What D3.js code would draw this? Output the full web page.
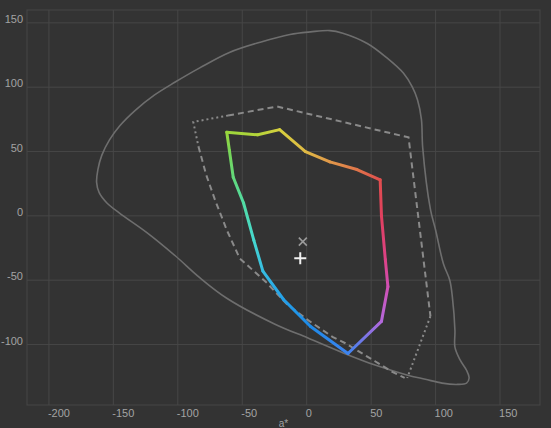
<!DOCTYPE html>
<html>
<head>
<meta charset="utf-8">
<script src="https://cdn.jsdelivr.net/npm/d3@7"></script>
<style>
  html, body { margin: 0; padding: 0; background: #333333; overflow: hidden; }
  svg { display: block; }
</style>
</head>
<body>
<div id="chart"></div>
<script>
// tick values for both axes
var xTicks = [-200, -150, -100, -50, 0, 50, 100, 150];
var yTicks = [-100, -50, 0, 50, 100, 150];

// outer solid boundary (a*, b*), clockwise from the top
var boundaryA = [18, 28, 47, 62, 75, 82, 86, 89, 90, 96, 100, 106, 111, 113, 115, 115, 119, 124, 126, 124, 117, 105, 92, 79, 53, 27, 1, -25, -62, -83, -102, -124, -145, -155, -161, -163, -162, -159, -153, -145, -133, -118, -102, -83, -60, -36, -13, 3];
var boundaryB = [144, 142, 134, 123, 111, 100, 90, 75, 53, 5, -11, -37, -50, -63, -89, -102, -112, -120, -126, -130, -131, -130, -127, -124, -116, -106, -95, -84, -64, -48, -31, -13, 2, 10, 18, 26, 36, 47, 59, 70, 82, 94, 104, 115, 127, 135, 141, 143];

// dashed gamut: top/right part and lower-left part
var dashTopA = [-61, -23, 79, 96];
var dashTopB = [78, 85, 61, -78];
var dashLowA = [-84, -78, -71, -62, -52, -31, -15, 1, 20, 30, 53, 66, 76];
var dashLowB = [54, 32, 12, -11, -33, -52, -69, -81, -94, -99, -113, -121, -126];

// dotted gamut pieces
var dotCornerA = [-61, -88, -84];
var dotCornerB = [78, 73, 54];
var dotRightA = [96, 78];
var dotRightB = [-78, -126];

// coloured hue ring
var ringA = [-62, -38, -21, -1, 18, 39, 57, 58, 61, 63, 58, 32, 3, -18, -34, -41, -49, -57, -60, -62];
var ringB = [65, 63, 67, 50, 42, 36, 28, 0, -34, -55, -82, -107, -86, -65, -43, -19, 10, 30, 51, 65];
var ringColors = ["#9ad63c", "#b4d43a", "#d6d03e", "#dfb944", "#e0984a", "#e0764a", "#e04e4e", "#e0405e",
                  "#dc4286", "#d050b4", "#b468dc", "#3d84f0", "#1e8ae8", "#24a0e8", "#36bce2", "#46d8d0",
                  "#52dca4", "#62d87a", "#7ad656", "#9ad63c"];

// markers
var timesPoint = [-3, -20];
var plusPoint = [-5, -33];

var width = 551, height = 428;
var x, y, svg;

function zip(a, b) {
    return a.map(function(d, i) { return [d, b[i]]; });
}

function drawChart() {
    svg = d3.select("#chart")
        .append("svg")
        .attr("width", width)
        .attr("height", height)
        .style("background", "#333333");

    x = d3.scaleLinear().domain([-217, 181]).range([27, 540]);
    y = d3.scaleLinear().domain([-147, 160]).range([405, 10]);

    // grid
    var grid = svg.append("g");
    grid.selectAll(".vg")
        .data(xTicks)
        .enter().append("line")
        .attr("x1", function(d) { return x(d); })
        .attr("x2", function(d) { return x(d); })
        .attr("y1", y.range()[1])
        .attr("y2", y.range()[0])
        .attr("stroke", "#474747")
        .attr("stroke-width", 1);
    grid.selectAll(".hg")
        .data(yTicks)
        .enter().append("line")
        .attr("x1", x.range()[0])
        .attr("x2", x.range()[1])
        .attr("y1", function(d) { return y(d); })
        .attr("y2", function(d) { return y(d); })
        .attr("stroke", "#474747")
        .attr("stroke-width", 1);

    // frame
    svg.append("rect")
        .attr("x", x.range()[0])
        .attr("y", y.range()[1])
        .attr("width", x.range()[1] - x.range()[0])
        .attr("height", y.range()[0] - y.range()[1])
        .attr("fill", "none")
        .attr("stroke", "#474747");

    // tick labels
    svg.append("g").selectAll("text")
        .data(xTicks)
        .enter().append("text")
        .attr("x", function(d) { return x(d) - 1; })
        .attr("y", 417)
        .attr("fill", "#a3a3a3")
        .style("font-family", "Liberation Sans, Arial, sans-serif")
        .style("font-size", "11px")
        .text(function(d) { return d; });

    svg.append("g").selectAll("text")
        .data(yTicks)
        .enter().append("text")
        .attr("x", 23)
        .attr("y", function(d) { return y(d); })
        .attr("text-anchor", "end")
        .attr("fill", "#a3a3a3")
        .style("font-family", "Liberation Sans, Arial, sans-serif")
        .style("font-size", "11px")
        .text(function(d) { return d; });

    svg.append("text")
        .attr("x", (x.range()[0] + x.range()[1]) / 2)
        .attr("y", 427)
        .attr("text-anchor", "middle")
        .attr("fill", "#a3a3a3")
        .style("font-family", "Liberation Sans, Arial, sans-serif")
        .style("font-size", "10px")
        .text("a*");

    var line = d3.line()
        .x(function(d) { return x(d[0]); })
        .y(function(d) { return y(d[1]); });

    // solid outer boundary
    svg.append("path")
        .datum(zip(boundaryA, boundaryB))
        .attr("d", d3.line()
            .x(function(d) { return x(d[0]); })
            .y(function(d) { return y(d[1]); })
            .curve(d3.curveCatmullRomClosed))
        .attr("fill", "none")
        .attr("stroke", "#6e6e6e")
        .attr("stroke-width", 1.6);

    // dashed and dotted gamuts
    [[dashTopA, dashTopB], [dashLowA, dashLowB]].forEach(function(p) {
        svg.append("path")
            .datum(zip(p[0], p[1]))
            .attr("d", line)
            .attr("fill", "none")
            .attr("stroke", "#8a8a8a")
            .attr("stroke-width", 2)
            .attr("stroke-dasharray", "6,4");
    });
    [[dotCornerA, dotCornerB], [dotRightA, dotRightB]].forEach(function(p) {
        svg.append("path")
            .datum(zip(p[0], p[1]))
            .attr("d", line)
            .attr("fill", "none")
            .attr("stroke", "#8a8a8a")
            .attr("stroke-width", 2)
            .attr("stroke-dasharray", "2,3");
    });

    // coloured ring, one gradient per segment
    var defs = svg.append("defs");
    var ring = zip(ringA, ringB);
    for (var i = 0; i < ring.length - 1; i++) {
        var p0 = ring[i], p1 = ring[i + 1];
        var g = defs.append("linearGradient")
            .attr("id", "seg" + i)
            .attr("gradientUnits", "userSpaceOnUse")
            .attr("x1", x(p0[0])).attr("y1", y(p0[1]))
            .attr("x2", x(p1[0])).attr("y2", y(p1[1]));
        g.append("stop").attr("offset", 0).attr("stop-color", ringColors[i]);
        g.append("stop").attr("offset", 1).attr("stop-color", ringColors[i + 1]);
        svg.append("path")
            .datum([p0, p1])
            .attr("d", line)
            .attr("fill", "none")
            .attr("stroke", "url(#seg" + i + ")")
            .attr("stroke-width", 3)
            .attr("stroke-linecap", "round");
    }

    // markers
    var tx = x(timesPoint[0]), ty = y(timesPoint[1]);
    svg.append("path")
        .attr("d", "M" + (tx - 4) + "," + (ty - 4) + "L" + (tx + 4) + "," + (ty + 4) +
                   "M" + (tx - 4) + "," + (ty + 4) + "L" + (tx + 4) + "," + (ty - 4))
        .attr("stroke", "#9a9a9a")
        .attr("stroke-width", 1.6);
    var px = x(plusPoint[0]), py = y(plusPoint[1]);
    svg.append("path")
        .attr("d", "M" + (px - 6) + "," + py + "L" + (px + 6) + "," + py +
                   "M" + px + "," + (py - 6) + "L" + px + "," + (py + 6))
        .attr("stroke", "#f0f0f0")
        .attr("stroke-width", 2);
}

drawChart();
</script>
</body>
</html>
